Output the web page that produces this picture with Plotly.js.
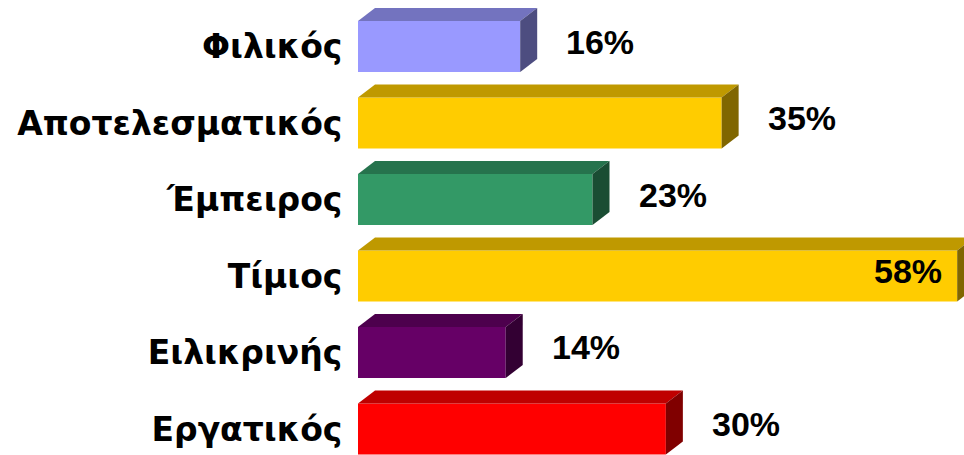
<!DOCTYPE html>
<html>
<head>
<meta charset="utf-8">
<script src="https://cdn.plot.ly/plotly-3.0.1.min.js"></script>
<style>html,body{margin:0;padding:0;background:#fff;}#chart{width:964px;height:455px;}</style>
</head>
<body>
<div id="chart"></div>
<script>
// Data (top to bottom)
const categories = ["Φιλικός", "Αποτελεσματικός", "Έμπειρος", "Τίμιος", "Ειλικρινής", "Εργατικός"];
const values = [15.7, 35.2, 22.7, 58.0, 14.3, 29.8];
const frontColors = ["#9999FF", "#FFCC00", "#339966", "#FFCC00", "#660066", "#FF0000"];
const topColors   = ["#7373BF", "#BF9900", "#26734D", "#BF9900", "#4D004D", "#BF0000"];
const sideColors  = ["#4D4D80", "#806600", "#1A4D33", "#806600", "#330033", "#800000"];

const W = 964, H = 455;
const L = 358;
const xMax = 58.66;            // axis range end
const pxPerX = (W - L) / xMax;
const yTop = -0.608, yBot = 5.34;
const pxPerY = H / (yBot - yTop);
const barW = 0.667;
const dx = 17 / pxPerX;        // depth offset in data units
const dy = 13 / pxPerY;

const yPos = categories.map((c, i) => i);

const traces = [];
traces.push({
  type: 'bar', orientation: 'h',
  x: values, y: yPos, width: barW,
  marker: {color: frontColors, line: {width: 0}},
  hoverinfo: 'none', showlegend: false
});
values.forEach((v, i) => {
  const y0 = i - barW / 2, y1 = i + barW / 2;
  traces.push({
    type: 'scatter', mode: 'lines', fill: 'toself',
    x: [0, dx, v + dx, v, 0],
    y: [y0, y0 - dy, y0 - dy, y0, y0],
    line: {width: 0, color: topColors[i]}, fillcolor: topColors[i],
    hoverinfo: 'none', showlegend: false
  });
  traces.push({
    type: 'scatter', mode: 'lines', fill: 'toself',
    x: [v, v + dx, v + dx, v, v],
    y: [y0, y0 - dy, y1 - dy, y1, y0],
    line: {width: 0, color: sideColors[i]}, fillcolor: sideColors[i],
    hoverinfo: 'none', showlegend: false
  });
});

const annotations = values.map((v, i) => {
  const inside = v + 110 / pxPerX > xMax;
  return {
    xref: 'x', yref: 'y', x: v, y: i,
    text: Math.round(v) + '%',
    showarrow: false,
    xanchor: inside ? 'right' : 'center',
    xshift: inside ? -13 : 80,
    yshift: 5,
    font: {family: 'Liberation Sans, Arial, sans-serif', size: 34, color: '#000', weight: 'bold'}
  };
});

const layout = {
  width: W, height: H,
  margin: {l: L, r: 0, t: 0, b: 0, pad: 0},
  paper_bgcolor: '#fff', plot_bgcolor: '#fff',
  xaxis: {range: [0, xMax], showgrid: false, zeroline: false, showline: false, showticklabels: false, ticks: '', fixedrange: true},
  yaxis: {range: [yBot, yTop], autorange: false, tickmode: 'array', tickvals: yPos, ticktext: categories,
          showgrid: false, zeroline: false, showline: false, ticks: 'outside', ticklen: 8, tickcolor: 'rgba(0,0,0,0)',
          tickfont: {family: 'DejaVu Sans, sans-serif', size: 33, color: '#000', weight: 'bold'}, fixedrange: true},
  annotations: annotations,
  showlegend: false
};

Plotly.newPlot('chart', traces, layout, {displayModeBar: false, staticPlot: true});
</script>
</body>
</html>
